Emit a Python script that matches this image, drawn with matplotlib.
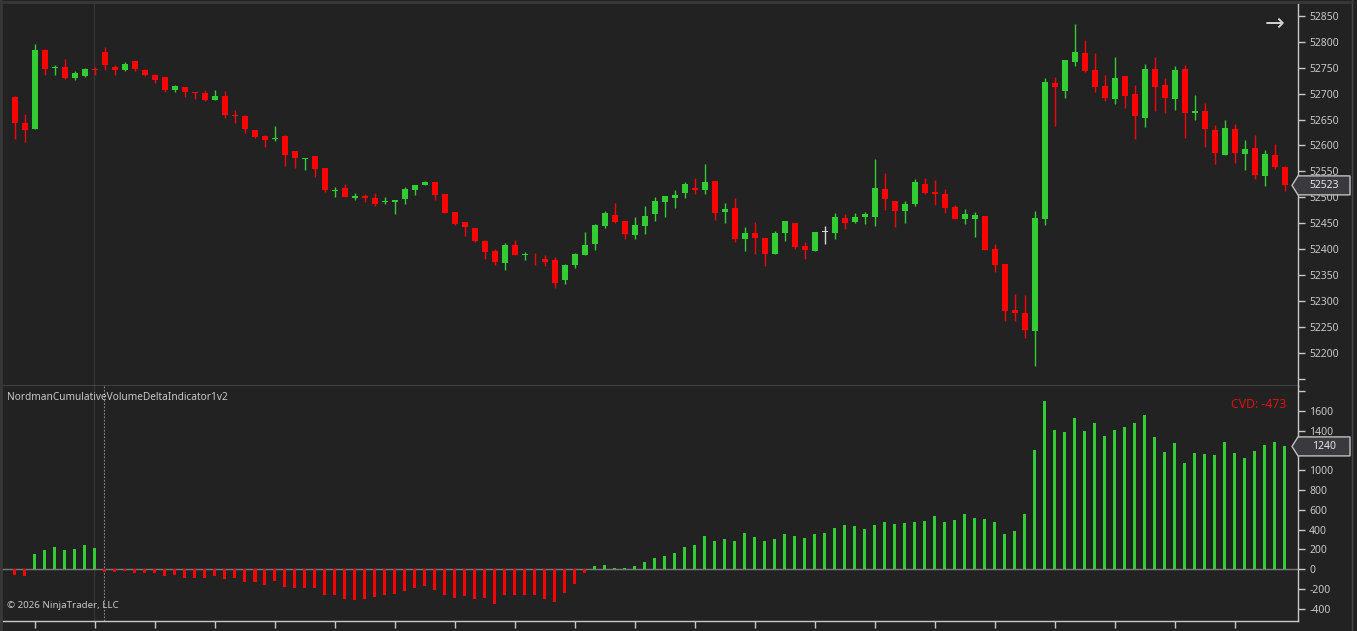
import numpy as np
import matplotlib
matplotlib.use('Agg')
import matplotlib.pyplot as plt
from matplotlib.patches import Polygon
from matplotlib.lines import Line2D

# OHLC of the candles (one bar per index)
opens = [52694, 52644, 52631, 52784, 52750, 52752, 52731, 52735, 52748, 52781,
         52752, 52746, 52763, 52746, 52736, 52732, 52708, 52713, 52703, 52701,
         52687, 52696, 52659, 52657, 52630, 52619, 52613, 52619, 52590, 52573,
         52580, 52557, 52512, 52518, 52499, 52503, 52499, 52490, 52491, 52496,
         52515, 52523, 52530, 52507, 52472, 52453, 52441, 52416, 52397, 52374,
         52408, 52388, 52389, 52381, 52379, 52341, 52370, 52389, 52409, 52445,
         52466, 52454, 52428, 52445, 52467, 52490, 52499, 52509, 52518, 52515,
         52532, 52472, 52480, 52420, 52431, 52422, 52391, 52432, 52451, 52406,
         52397, 52433, 52432, 52460, 52453, 52461, 52461, 52516, 52493, 52474,
         52488, 52526, 52510, 52507, 52481, 52459, 52459, 52464, 52400, 52371,
         52283, 52277, 52241, 52459, 52721, 52706, 52762, 52779, 52746, 52715,
         52690, 52734, 52700, 52654, 52748, 52717, 52690, 52748, 52663, 52667,
         52630, 52582, 52632, 52584, 52595, 52542, 52582, 52559]
highs = [52696, 52661, 52796, 52786, 52756, 52767, 52744, 52750, 52752, 52790,
         52756, 52761, 52763, 52748, 52738, 52732, 52717, 52713, 52703, 52707,
         52707, 52705, 52669, 52659, 52630, 52620, 52638, 52620, 52590, 52576,
         52580, 52557, 52520, 52526, 52508, 52507, 52508, 52501, 52495, 52520,
         52524, 52532, 52530, 52507, 52472, 52453, 52441, 52418, 52400, 52412,
         52418, 52395, 52393, 52389, 52385, 52371, 52393, 52433, 52449, 52474,
         52489, 52454, 52462, 52483, 52501, 52503, 52514, 52530, 52537, 52564,
         52532, 52489, 52499, 52443, 52453, 52422, 52435, 52454, 52451, 52414,
         52433, 52445, 52470, 52468, 52470, 52472, 52574, 52547, 52493, 52493,
         52536, 52537, 52534, 52516, 52485, 52478, 52472, 52464, 52410, 52371,
         52314, 52312, 52474, 52730, 52732, 52765, 52835, 52804, 52779, 52736,
         52771, 52734, 52717, 52757, 52771, 52730, 52754, 52756, 52698, 52682,
         52640, 52649, 52642, 52611, 52620, 52592, 52603, 52561]
lows = [52613, 52607, 52631, 52737, 52737, 52729, 52727, 52733, 52737, 52746,
        52737, 52743, 52743, 52735, 52721, 52704, 52704, 52694, 52690, 52685,
        52687, 52654, 52644, 52625, 52615, 52598, 52609, 52561, 52557, 52552,
        52540, 52511, 52501, 52501, 52494, 52490, 52484, 52488, 52467, 52488,
        52505, 52523, 52494, 52470, 52447, 52426, 52413, 52380, 52370, 52360,
        52388, 52378, 52370, 52368, 52324, 52333, 52364, 52389, 52399, 52440,
        52451, 52420, 52420, 52430, 52455, 52461, 52480, 52498, 52507, 52507,
        52457, 52451, 52413, 52397, 52391, 52368, 52391, 52416, 52401, 52380,
        52397, 52409, 52420, 52438, 52451, 52449, 52445, 52476, 52442, 52451,
        52484, 52507, 52486, 52470, 52459, 52449, 52424, 52399, 52355, 52262,
        52262, 52229, 52175, 52447, 52638, 52691, 52754, 52741, 52704, 52685,
        52681, 52673, 52613, 52636, 52667, 52662, 52669, 52615, 52650, 52598,
        52565, 52582, 52567, 52553, 52536, 52521, 52555, 52513]
closes = [52644, 52629, 52784, 52748, 52752, 52731, 52739, 52748, 52745, 52756,
          52746, 52757, 52748, 52737, 52727, 52708, 52715, 52704, 52701, 52687,
          52696, 52658, 52656, 52631, 52617, 52611, 52615, 52582, 52575, 52576,
          52555, 52515, 52514, 52501, 52503, 52498, 52488, 52493, 52494, 52516,
          52524, 52530, 52505, 52470, 52449, 52442, 52415, 52395, 52376, 52408,
          52388, 52391, 52388, 52376, 52335, 52370, 52391, 52408, 52447, 52470,
          52453, 52430, 52447, 52464, 52493, 52503, 52505, 52526, 52515, 52530,
          52470, 52478, 52420, 52431, 52422, 52391, 52431, 52454, 52405, 52399,
          52433, 52433, 52462, 52451, 52462, 52468, 52518, 52496, 52474, 52487,
          52530, 52509, 52507, 52480, 52459, 52468, 52466, 52399, 52370, 52281,
          52276, 52243, 52460, 52723, 52712, 52765, 52781, 52743, 52712, 52692,
          52730, 52696, 52656, 52748, 52712, 52692, 52746, 52663, 52667, 52631,
          52586, 52634, 52586, 52593, 52544, 52584, 52559, 52523]

# cumulative volume delta per bar
cvd = [-54, -64, 155, 195, 225, 195, 205, 245, 215, -24,
       -24, -13, -34, -34, -34, -64, -54, -84, -84, -84,
       -64, -94, -84, -124, -124, -155, -114, -175, -185, -185,
       -185, -256, -256, -296, -306, -296, -276, -256, -245, -215,
       -185, -165, -205, -256, -286, -266, -296, -286, -346, -256,
       -256, -256, -256, -296, -326, -235, -145, -34, 34, 44,
       13, 13, 34, 74, 114, 135, 165, 225, 245, 336,
       286, 306, 286, 367, 326, 286, 306, 356, 336, 316,
       356, 367, 417, 447, 437, 407, 447, 478, 457, 467,
       478, 488, 538, 478, 498, 558, 518, 508, 478, 356,
       387, 558, 1204, 1698, 1406, 1386, 1527, 1396, 1476, 1345,
       1406, 1436, 1476, 1557, 1335, 1184, 1275, 1073, 1174, 1164,
       1154, 1285, 1174, 1123, 1194, 1254, 1285, 1240]

price_ticks = list(range(52150, 52851, 50))
cvd_ticks = list(range(-400, 1801, 200))
cvd_text = 'CVD: -473'
indicator_name = 'NordmanCumulativeVolumeDeltaIndicator1v2'
copyright_text = '\u00a9 2026 NinjaTrader, LLC'

BG = '#222222'
GREEN = '#32cd32'
RED = '#ff0000'
TXT = '#c8c8c8'
W, H = 1357, 631

plt.rcParams['font.family'] = ['Noto Sans', 'DejaVu Sans']

o = np.array(opens, float)
h = np.array(highs, float)
l = np.array(lows, float)
c = np.array(closes, float)
x = np.arange(len(o))
cols = [GREEN if cc > oo else (RED if cc < oo else '#d8d8d8') for oo, cc in zip(o, c)]

fig = plt.figure(figsize=(W / 100, H / 100), dpi=100, facecolor=BG)
ax1 = fig.add_axes([0, 1 - 386 / H, 1298 / W, 383 / H], facecolor=BG)
ax2 = fig.add_axes([0, 1 - 621 / H, 1298 / W, 235 / H], facecolor=BG)

# price panel
ax1.vlines(x, l, h, colors=cols, lw=1.0, zorder=2)
ax1.bar(x, np.maximum(np.abs(c - o), 1.5), bottom=np.minimum(o, c), width=0.68,
        color=cols, zorder=3, linewidth=0)
ax1.set_xlim(-1.5, 128.3)
ax1.set_ylim(52135.7, 52875.1)
ax1.axvline(7.93, color='#363636', lw=1, zorder=1)

# cvd panel
vcols = [GREEN if v >= 0 else RED for v in cvd]
ax2.bar(x, cvd, width=0.3, color=vcols, zorder=3, linewidth=0)
ax2.axhline(0, color='#7a7a7a', lw=1, zorder=2)
ax2.set_xlim(-1.5, 128.3)
ax2.set_ylim(-521.7, 1849.5)
ax2.axvline(7.93, color='#363636', lw=1, zorder=1)
ax2.axvline(8.95, color='#8a8a8a', lw=0.8, ls=(0, (1.5, 1.5)), zorder=1)

for ax in (ax1, ax2):
    for s in ('left', 'top'):
        ax.spines[s].set_visible(False)
    for s in ('right', 'bottom'):
        ax.spines[s].set_color(TXT)
        ax.spines[s].set_linewidth(1)
    ax.yaxis.tick_right()
    ax.tick_params(axis='y', direction='out', length=5, width=1, color=TXT,
                   labelcolor=TXT, labelsize=7.5, pad=3)

ax1.set_yticks(price_ticks)
ax1.set_yticklabels(['' if p == 52150 else str(p) for p in price_ticks])
ax1.tick_params(axis='x', bottom=False, labelbottom=False)

# 1200 sits under the last-value marker, so it stays blank
ax2.set_yticks(cvd_ticks)
ax2.set_yticklabels(['' if v in (1200, 1800) else str(v) for v in cvd_ticks])
ax2.set_xticks(np.arange(2, 128, 6))
ax2.tick_params(axis='x', direction='out', length=5, width=1, color=TXT, labelbottom=False)

# texts
fig.text(7 / W, 1 - 398 / H, indicator_name, color=TXT, fontsize=7.3, va='center')
fig.text(7 / W, 1 - 606 / H, copyright_text, color=TXT, fontsize=7.0, va='center')
fig.text(1286 / W, 1 - 404 / H, cvd_text, color='#e01010', fontsize=8.8, va='center', ha='right')
fig.text(1275 / W, 1 - 24 / H, '\u2192', color='#d0d0d0', fontsize=17, va='center', ha='center',
         family='DejaVu Sans')


def marker(ax, value, label):
    yc = ax.transData.transform((0, value))[1]
    pts = [(1292, yc), (1298, yc + 9.5), (1350, yc + 9.5), (1350, yc - 9.5), (1298, yc - 9.5)]
    fig.add_artist(Polygon(pts, closed=True, transform=None, facecolor='#3a3a3e',
                           edgecolor='#c0c0c0', lw=1, zorder=10))
    fx, fy = fig.transFigure.inverted().transform((1324, yc))
    fig.text(fx, fy, label, color='#e6e6e6', fontsize=7.5, va='center', ha='center', zorder=11)


marker(ax1, closes[-1], str(closes[-1]))
marker(ax2, cvd[-1], str(cvd[-1]))

# outer frame
fig.add_artist(Line2D([1351.5 / W] * 2, [0, 1], color='#474747', lw=1, transform=fig.transFigure))
fig.add_artist(Line2D([0, 1351.5 / W], [1 - 2 / H] * 2, color='#383838', lw=2, transform=fig.transFigure))
fig.add_artist(Line2D([1 / W] * 2, [0, 1], color='#383838', lw=2, transform=fig.transFigure))

fig.savefig('out.png', dpi=100, facecolor=BG)
